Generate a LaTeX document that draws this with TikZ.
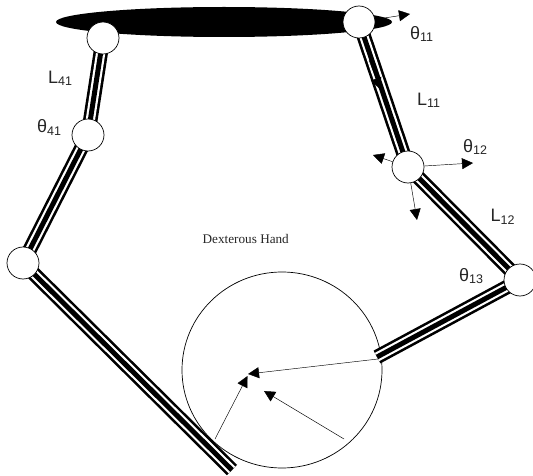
\documentclass[tikz,border=0pt]{standalone}
\usepackage{fontspec}
\setmainfont{Liberation Serif}
\newfontfamily\arialfont{Liberation Sans}
\usetikzlibrary{arrows.meta,backgrounds,shapes.geometric}
\newcommand{\symsub}[2]{{\fontsize{18}{18}\selectfont\arialfont #1}{\fontsize{12.5}{12.5}\selectfont\arialfont\raisebox{-2pt}{#2}}}
\tikzset{
  x=1pt,y=-1pt,
  joint/.style={circle,draw=black,fill=white,line width=0.7pt,minimum size=32pt,inner sep=0pt},
  linkouter/.style={line width=14.5pt,black},
  linkgap/.style={line width=9.3pt,white},
  linkcore/.style={line width=5pt,black},
  thinarrow/.style={-{Triangle[length=11pt,width=11pt]},line width=0.45pt,black},
  lab/.style={inner sep=0pt,text=black!85},
}
\newcommand{\linkbar}[2]{%
  \draw[linkouter] (#1) -- (#2);
  \draw[linkgap] (#1) -- (#2);
  \draw[linkcore] (#1) -- (#2);}
\begin{document}
\begin{tikzpicture}
\useasboundingbox (0,0) rectangle (533,476);
\clip (0,0) rectangle (533,476);
\coordinate (leftend) at (232,470);
\coordinate (rightend) at (377,357);
\coordinate (fromright) at (378,359);
\coordinate (fromleft) at (215,439);
\coordinate (fromfloor) at (344,439);
\coordinate (tipa) at (248,374);
\coordinate (tipb) at (247.5,376);
\coordinate (tipc) at (264,391);
\coordinate (tipth) at (410,14);
\coordinate (tipr) at (473,163);
\coordinate (tipl) at (373,155);
\coordinate (tipd) at (417,220);
\coordinate (linkstart) at (369,60);
\coordinate (linktip) at (380,89);
\begin{scope}[on background layer]
  \fill[white] (0,0) rectangle (533,476);
  \node[ellipse,fill=black,minimum width=336pt,minimum height=30pt,inner sep=0pt] (palm) at (224,22) {};
  \node[ellipse,draw=black,line width=0.7pt,minimum width=200pt,minimum height=196pt,inner sep=0pt] (object) at (282,370) {};
\end{scope}
\node[joint] (ja) at (103,38) {};
\node[joint] (jb) at (88,135) {};
\node[joint] (jc) at (23,263) {};
\node[joint] (jd) at (359,22) {};
\node[joint] (je) at (408,167) {};
\node[joint] (jf) at (520,280) {};
\begin{scope}[on background layer]
  \linkbar{ja.center}{jb.center}
  \linkbar{jb.center}{jc.center}
  \linkbar{jc.center}{leftend}
  \linkbar{jd.center}{je.center}
  \linkbar{je.center}{jf.center}
  \linkbar{jf.center}{rightend}
\end{scope}
\draw[thinarrow] (fromright) -- (tipa);
\draw[thinarrow] (fromleft) -- (tipb);
\draw[thinarrow] (fromfloor) -- (tipc);
\draw[thinarrow] (jd) -- (tipth);
\draw[thinarrow] (je) -- (tipr);
\draw[thinarrow] (je) -- (tipl);
\draw[thinarrow] (je) -- (tipd);
\draw[thinarrow] (linkstart) -- (linktip);
\node[lab,font=\fontsize{13.2}{14}\selectfont,anchor=base west] (title) at (202.5,243) {Dexterous Hand};
\node[lab,anchor=base west] (t11) at (410,40) {\symsub{θ}{11}};
\node[lab,anchor=base west] (l11) at (417,106) {\symsub{L}{11}};
\node[lab,anchor=base west] (t12) at (463,152.5) {\symsub{θ}{12}};
\node[lab,anchor=base west] (l12) at (490.5,222) {\symsub{L}{12}};
\node[lab,anchor=base west] (t13) at (459,281) {\symsub{θ}{13}};
\node[lab,anchor=base west] (l41) at (48,84) {\symsub{L}{41}};
\node[lab,anchor=base west] (t41) at (37,133) {\symsub{θ}{41}};
\end{tikzpicture}
\end{document}
